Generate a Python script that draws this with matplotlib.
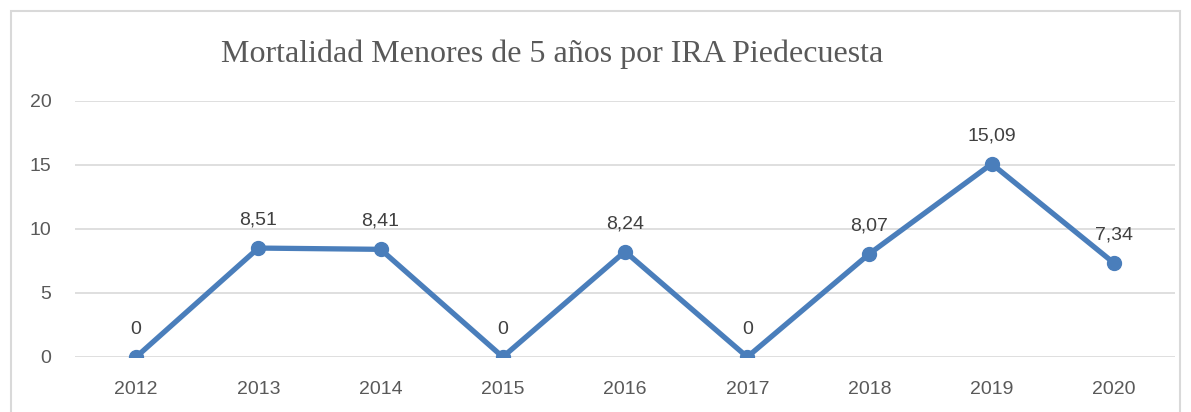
import matplotlib.pyplot as plt
from matplotlib.patches import Rectangle

# Datos
years = [2012, 2013, 2014, 2015, 2016, 2017, 2018, 2019, 2020]
values = [0, 8.51, 8.41, 0, 8.24, 0, 8.07, 15.09, 7.34]
labels = ['0', '8,51', '8,41', '0', '8,24', '0', '8,07', '15,09', '7,34']

fig = plt.figure(figsize=(11.91, 4.12), dpi=100)
ax = fig.add_axes([0.063, 0.1335, 0.9236, 0.6214])

line_color = '#4A7EBB'
text_color = '#595959'
grid_color = '#D9D9D9'

ax.plot(years, values, color=line_color, linewidth=3.8, marker='o',
        markersize=10, zorder=3)

for x, y, s in zip(years, values, labels):
    ax.annotate(s, xy=(x, y), xytext=(0, 14), textcoords='offset points',
                ha='center', va='bottom', fontsize=14, color='#404040',
                family='Liberation Sans')

ax.set_xlim(2011.5, 2020.5)
ax.set_ylim(0, 20)
ax.set_xticks(years)
ax.set_yticks([0, 5, 10, 15, 20])
ax.yaxis.grid(True, color=grid_color, linewidth=1.2)
ax.set_axisbelow(True)
for sp in ax.spines.values():
    sp.set_visible(False)
ax.tick_params(length=0, labelsize=14, labelcolor=text_color)
ax.tick_params(axis='x', pad=17)
ax.tick_params(axis='y', pad=17)
for lab in ax.get_xticklabels() + ax.get_yticklabels():
    lab.set_family('Liberation Sans')

# Titulo
fig.text(0.464, 0.868, 'Mortalidad Menores de 5 años por IRA Piedecuesta',
         ha='center', va='center', fontsize=23, color=text_color,
         family='Liberation Serif')

# Borde del grafico
fig.patches.append(Rectangle((11 / 1191, -0.1), 1169 / 1191, 1 - 11 / 412 + 0.1,
                             transform=fig.transFigure, fill=False,
                             edgecolor=grid_color, linewidth=1.5))

plt.savefig('out.png', dpi=100)
